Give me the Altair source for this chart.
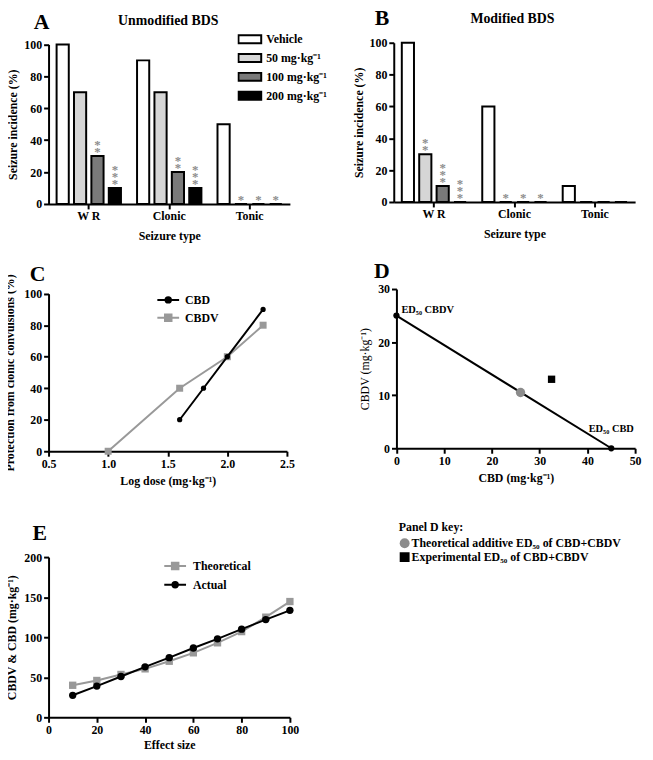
import altair as alt
import pandas as pd

FONT = "Liberation Serif"
W, H = 644, 750

# ---------------- data ----------------
seizure_types = ["W R", "Clonic", "Tonic"]
dose_groups = ["Vehicle", "50 mg·kg⁻¹", "100 mg·kg⁻¹", "200 mg·kg⁻¹"]
bar_fills = ["#ffffff", "#d6d6d6", "#7a7a7a", "#000000"]

# Panel A – Unmodified BDS (seizure incidence %, per dose group)
a_wr = [100, 70, 30, 10]
a_clonic = [90, 70, 20, 10]
a_tonic = [50, 0, 0, 0]
a_wr_sig = ["", "", "**", "***"]
a_clonic_sig = ["", "", "**", "***"]
a_tonic_sig = ["", "*", "*", "*"]

# Panel B – Modified BDS
b_wr = [100, 30, 10, 0]
b_clonic = [60, 0, 0, 0]
b_tonic = [10, 0, 0, 0]
b_wr_sig = ["", "**", "***", "***"]
b_clonic_sig = ["", "*", "*", "*"]
b_tonic_sig = ["", "", "", ""]

# Panel C – protection from clonic convulsions
c_series = ["CBD", "CBDV"]
c_dose_cbd = [1.6, 1.8, 2.0, 2.3]
c_prot_cbd = [20, 40, 60, 90]
c_dose_cbdv = [1.0, 1.6, 2.0, 2.3]
c_prot_cbdv = [0, 40, 60, 80]

# Panel D – isobologram
d_ed50_cbd = [0, 45]
d_ed50_cbdv = [25, 0]
d_ed50_labels = ["ED₅₀ CBDV", "ED₅₀ CBD"]
d_key_labels = ["Theoretical additive ED₅₀ of CBD+CBDV", "Experimental ED₅₀ of CBD+CBDV"]
d_key_cbd = [26, 32.5]
d_key_cbdv = [10.5, 13]
d_key_colors = ["#8c8c8c", "#000000"]

# Panel E – theoretical vs actual
e_series = ["Theoretical", "Actual"]
e_effect = [10, 20, 30, 40, 50, 60, 70, 80, 90, 100]
e_theoretical = [40, 46, 53.5, 60.5, 70, 80.5, 93, 107, 125, 144.5]
e_actual = [27.5, 39, 51, 63, 74.5, 86.5, 98, 110, 122, 133.5]

panel_letters = ["A", "B", "C", "D", "E"]
panel_titles = ["Unmodified BDS", "Modified BDS"]

GRAY = "#999999"
STAR = "#8c8c8c"
STAR_DY = [3, -4, -11]  # vertical stacking of the significance asterisks

# ---------------- helpers ----------------
def bar_table(rows):
    recs = []
    for t, vals, sig in rows:
        for d, v, s in zip(dose_groups, vals, sig):
            recs.append({"type": t, "dose": d, "value": v, "n": len(s)})
    return pd.DataFrame(recs)


def bar_panel(df, x0, x1, y0, y1, legend):
    x = alt.X("type:N", sort=seizure_types, title="Seizure type",
              scale=alt.Scale(domain=seizure_types, range=[x0, x1], paddingInner=0.2, paddingOuter=0.1),
              axis=alt.Axis(orient="bottom", offset=y0 - H, labelAngle=0, titlePadding=9))
    xo = alt.XOffset("dose:N", sort=dose_groups,
                     scale=alt.Scale(domain=dose_groups, paddingInner=0.3, paddingOuter=0))
    y = alt.Y("value:Q", title="Seizure incidence (%)",
              scale=alt.Scale(domain=[0, 100], range=[y0, y1], nice=False),
              axis=alt.Axis(orient="left", offset=-x0, values=[0, 20, 40, 60, 80, 100]))
    base = alt.Chart(df).encode(x=x, xOffset=xo, y=y)
    bars = base.mark_bar(stroke="black", strokeWidth=2).encode(
        fill=alt.Fill("dose:N", sort=dose_groups,
                      scale=alt.Scale(domain=dose_groups, range=bar_fills), legend=legend))
    layers = [bars]
    for k, dy in enumerate(STAR_DY):
        layers.append(
            base.transform_filter(alt.datum.n > k).mark_text(
                text="*", font=FONT, fontSize=13, fontWeight="bold", color=STAR, opacity=0.99,
                baseline="bottom", dy=dy,
            )
        )
    return alt.layer(*layers)


def legend_layer(names, fills, strokes, shapes, legend):
    df = pd.DataFrame({"series": names})
    return alt.Chart(df).transform_filter("false").mark_point(filled=True, strokeWidth=2, opacity=1).encode(
        fill=alt.Fill("series:N", sort=names, scale=alt.Scale(domain=names, range=fills), legend=legend),
        stroke=alt.Stroke("series:N", sort=names, scale=alt.Scale(domain=names, range=strokes), legend=legend),
        shape=alt.Shape("series:N", sort=names, scale=alt.Scale(domain=names, range=shapes), legend=legend),
    )


def text_at(txt, px, py, size, align="center"):
    return alt.Chart(alt.Data(values=[{"t": txt}])).mark_text(
        font=FONT, fontSize=size, fontWeight="bold", color="black", align=align, baseline="alphabetic"
    ).encode(x=alt.value(px), y=alt.value(py), text="t:N")


LINE_CIRCLE = "M-1,0L1,0M-0.25,0A0.25,0.25,0,1,0,0.25,0A0.25,0.25,0,1,0,-0.25,0Z"
LINE_SQUARE = "M-1,0L1,0M-0.3,-0.3L0.3,-0.3L0.3,0.3L-0.3,0.3Z"
BAR_BOX = "M-1,-0.35L1,-0.35L1,0.35L-1,0.35Z"

# ---------------- panel A ----------------
df_a = bar_table([("W R", a_wr, a_wr_sig), ("Clonic", a_clonic, a_clonic_sig), ("Tonic", a_tonic, a_tonic_sig)])
legend_a = alt.Legend(title=None, orient="none", legendX=232, legendY=18, symbolType=BAR_BOX,
                      symbolSize=529, symbolStrokeColor="black", symbolStrokeWidth=2, symbolOpacity=1,
                      labelOffset=4, clipHeight=19, rowPadding=0, padding=0)
panel_a = bar_panel(df_a, 41, 285, 194, 32.7, legend_a)

# ---------------- panel B ----------------
df_b = bar_table([("W R", b_wr, b_wr_sig), ("Clonic", b_clonic, b_clonic_sig), ("Tonic", b_tonic, b_tonic_sig)])
panel_b = bar_panel(df_b, 390, 634, 192, 31, None)

# ---------------- panel C ----------------
df_c = pd.DataFrame({
    "series": ["CBD"] * len(c_dose_cbd) + ["CBDV"] * len(c_dose_cbdv),
    "dose": c_dose_cbd + c_dose_cbdv,
    "prot": c_prot_cbd + c_prot_cbdv,
})
base_c = alt.Chart(df_c).encode(
    x=alt.X("dose:Q", title="Log dose (mg·kg⁻¹)",
            scale=alt.Scale(domain=[0.5, 2.5], range=[41, 282], nice=False, zero=False),
            axis=alt.Axis(orient="bottom", offset=444 - H, values=[0.5, 1.0, 1.5, 2.0, 2.5],
                          format=".1f", labelFlush=False, titlePadding=7)),
    y=alt.Y("prot:Q", title="Protection from clonic convulsions (%)",
            scale=alt.Scale(domain=[0, 100], range=[444, 284.7], nice=False),
            axis=alt.Axis(orient="left", offset=-41, values=[0, 20, 40, 60, 80, 100], titlePadding=7)),
)
cbd_f = alt.datum.series == "CBD"
cbdv_f = alt.datum.series == "CBDV"
panel_c = alt.layer(
    base_c.transform_filter(cbdv_f).mark_line(color=GRAY, strokeWidth=2),
    base_c.transform_filter(cbdv_f).mark_square(color=GRAY, size=50, opacity=1),
    base_c.transform_filter(cbd_f).mark_line(color="black", strokeWidth=2),
    base_c.transform_filter(cbd_f).mark_circle(color="black", size=28, opacity=1),
    legend_layer(c_series, ["black", GRAY], ["black", GRAY], [LINE_CIRCLE, LINE_SQUARE],
                 alt.Legend(title=None, orient="none", legendX=150, legendY=282, symbolSize=484,
                            symbolStrokeWidth=2, symbolOpacity=1, labelOffset=5, clipHeight=18,
                            rowPadding=0, padding=0)),
)

# ---------------- panel D ----------------
xd = alt.X("cbd:Q", title="CBD (mg·kg⁻¹)",
           scale=alt.Scale(domain=[0, 50], range=[392.7, 634], nice=False),
           axis=alt.Axis(orient="bottom", offset=441 - H, values=[0, 10, 20, 30, 40, 50],
                         labelFlush=False, titlePadding=7))
yd = alt.Y("cbdv:Q", title="CBDV (mg·kg⁻¹)",
           scale=alt.Scale(domain=[0, 30], range=[441, 280], nice=False),
           axis=alt.Axis(orient="left", offset=-392.7, values=[0, 10, 20, 30],
                         titleFontWeight="normal", titlePadding=6))
df_d_line = pd.DataFrame({"cbd": d_ed50_cbd, "cbdv": d_ed50_cbdv, "label": d_ed50_labels})
df_d_key = pd.DataFrame({"cbd": d_key_cbd, "cbdv": d_key_cbdv, "kind": d_key_labels})
base_dl = alt.Chart(df_d_line).encode(x=xd, y=yd)
base_dk = alt.Chart(df_d_key).encode(x=xd, y=yd)
panel_d = alt.layer(
    base_dl.mark_line(color="black", strokeWidth=2),
    base_dl.mark_circle(color="black", size=40, opacity=1),
    base_dl.transform_filter(alt.datum.cbd == 0).mark_text(
        font=FONT, fontSize=10.5, fontWeight="bold", align="left", baseline="middle", dx=5, dy=-6, color="black"
    ).encode(text="label:N"),
    base_dl.transform_filter(alt.datum.cbd > 0).mark_text(
        font=FONT, fontSize=10.5, fontWeight="bold", align="center", baseline="middle", dx=0, dy=-19, color="black"
    ).encode(text="label:N"),
    base_dk.transform_filter(alt.datum.cbd < 30).mark_circle(color=d_key_colors[0], size=90, opacity=1),
    base_dk.transform_filter(alt.datum.cbd > 30).mark_square(color=d_key_colors[1], size=55, opacity=1),
    legend_layer(d_key_labels, d_key_colors, d_key_colors, ["circle", "square"],
                 alt.Legend(title="Panel D key:", orient="none", legendX=395, legendY=516, symbolSize=100,
                            symbolStrokeWidth=0, symbolOpacity=1, labelOffset=1, clipHeight=14,
                            rowPadding=0, padding=0, titlePadding=2, titleFontSize=12, labelLimit=400)),
)

# ---------------- panel E ----------------
df_e = pd.DataFrame({
    "series": ["Theoretical"] * len(e_effect) + ["Actual"] * len(e_effect),
    "effect": e_effect + e_effect,
    "dose": e_theoretical + e_actual,
})
base_e = alt.Chart(df_e).encode(
    x=alt.X("effect:Q", title="Effect size",
            scale=alt.Scale(domain=[0, 100], range=[41, 285], nice=False),
            axis=alt.Axis(orient="bottom", offset=713 - H, values=[0, 20, 40, 60, 80, 100],
                          labelFlush=False, titlePadding=5)),
    y=alt.Y("dose:Q", title="CBDV & CBD (mg·kg⁻¹)",
            scale=alt.Scale(domain=[0, 200], range=[713, 551], nice=False),
            axis=alt.Axis(orient="left", offset=-41, values=[0, 50, 100, 150, 200], titlePadding=5)),
)
th_f = alt.datum.series == "Theoretical"
ac_f = alt.datum.series == "Actual"
panel_e = alt.layer(
    base_e.transform_filter(th_f).mark_line(color=GRAY, strokeWidth=2),
    base_e.transform_filter(th_f).mark_square(color=GRAY, size=55, opacity=1),
    base_e.transform_filter(ac_f).mark_line(color="black", strokeWidth=2),
    base_e.transform_filter(ac_f).mark_circle(color="black", size=55, opacity=1),
    legend_layer(e_series, [GRAY, "black"], [GRAY, "black"], [LINE_SQUARE, LINE_CIRCLE],
                 alt.Legend(title=None, orient="none", legendX=157, legendY=550.5, symbolSize=484,
                            symbolStrokeWidth=2, symbolOpacity=1, labelOffset=6, clipHeight=19,
                            rowPadding=0, padding=0)),
)

# ---------------- annotations ----------------
texts = [
    text_at(panel_letters[0], 34, 17, 22),
    text_at(panel_titles[0], 162, 13, 14),
    text_at(panel_letters[1], 378, 13, 22),
    text_at(panel_titles[1], 510, 11, 14),
    text_at(panel_letters[2], 30, 272, 22),
    text_at(panel_letters[3], 378, 269, 22),
    text_at(panel_letters[4], 32, 534, 22),
]

chart = alt.layer(panel_a, panel_b, panel_c, panel_d, panel_e, *texts).resolve_scale(
    x="independent", y="independent", xOffset="independent",
    fill="independent", stroke="independent", shape="independent", color="independent",
).resolve_axis(x="independent", y="independent").resolve_legend(
    fill="independent", stroke="independent", shape="independent"
).properties(
    width=W, height=H, autosize=alt.AutoSizeParams(type="none"), padding=0,
).configure_view(stroke=None).configure_axis(
    grid=False, domainColor="black", domainWidth=2, tickColor="black", tickWidth=2, tickSize=5,
    labelFont=FONT, labelFontSize=12, labelFontWeight="bold", labelColor="black", labelPadding=2,
    titleFont=FONT, titleFontSize=12, titleFontWeight="bold", titleColor="black",
).configure_legend(
    labelFont=FONT, labelFontSize=12, labelFontWeight="bold", labelColor="black",
    titleFont=FONT, titleFontWeight="bold", titleColor="black",
)

chart.save("out.html", embed_options={"renderer": "svg", "actions": False})
